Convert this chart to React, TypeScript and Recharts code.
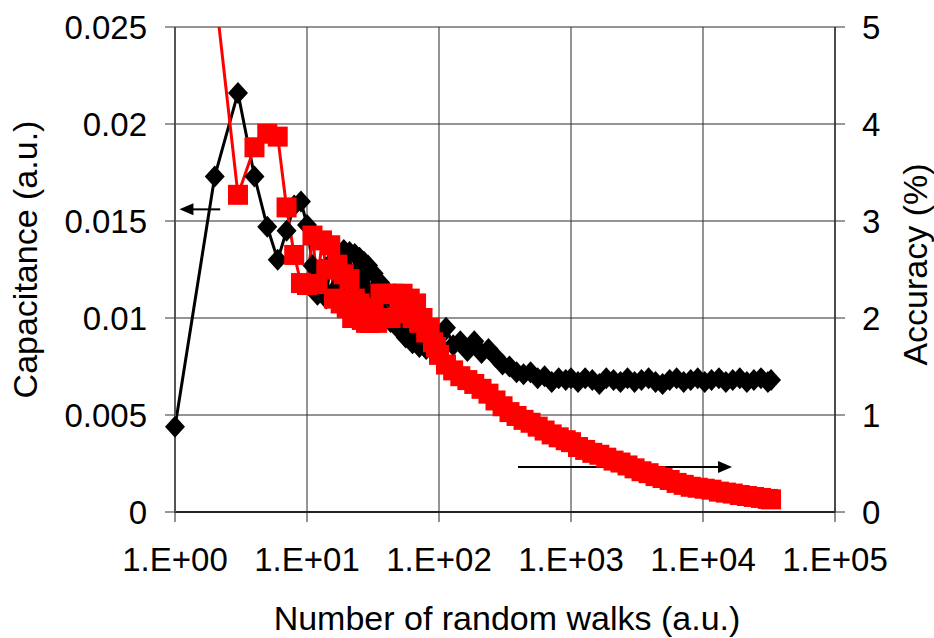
import React from "react";
import { ComposedChart, Line, XAxis, YAxis, CartesianGrid, ReferenceLine } from "recharts";

// number of random walks (x, log scale)
const walks = [
  1, 2, 3, 4, 5, 6, 7, 8, 9, 10,
  11, 12, 13, 14, 15, 16, 17, 18, 19, 20,
  21, 22, 23, 24, 25, 26, 27, 28, 29, 30,
  32, 34, 36, 38, 40, 43, 46, 50, 53, 56,
  60, 63, 67, 71, 75, 80, 85, 90, 95,
  100, 113, 128, 145, 164, 185, 210, 237, 268, 303,
  342, 387, 437, 494, 559, 631, 714, 807, 912,
  1000, 1130, 1280, 1450, 1640, 1850, 2100, 2370, 2680, 3030,
  3420, 3870, 4370, 4940, 5590, 6310, 7140, 8070, 9120, 10300,
  11600, 13200, 14900, 16800, 19000, 21500, 24300, 27500, 31000, 32768,
];

// capacitance (a.u.), left axis
const capacitance = [
  0.0044, 0.0173, 0.0216, 0.0173, 0.0147, 0.013, 0.0145, 0.0158, 0.016, 0.0148,
  0.0127, 0.0112, 0.0125, 0.011, 0.0128, 0.0114, 0.0133, 0.0118, 0.0135, 0.012,
  0.0134, 0.0118, 0.0133, 0.0116, 0.0131, 0.0114, 0.0129, 0.0112, 0.0127, 0.011,
  0.0123, 0.0106, 0.0118, 0.0102, 0.0113, 0.0098, 0.0108, 0.0094, 0.0104, 0.009,
  0.01, 0.0087, 0.0096, 0.0085, 0.0093, 0.0084, 0.009, 0.0085, 0.0088,
  0.009, 0.0095, 0.0086, 0.0088, 0.0083, 0.0088, 0.0082, 0.0084, 0.008, 0.0076,
  0.0075, 0.0072, 0.0071, 0.0072, 0.0069, 0.007, 0.0067, 0.0069, 0.0068,
  0.0069, 0.0067, 0.0069, 0.0068, 0.0066, 0.0069, 0.0068, 0.0067, 0.0069, 0.0067,
  0.0068, 0.0069, 0.0067, 0.0066, 0.0068, 0.0069, 0.0067, 0.0068, 0.0069, 0.0067,
  0.0068, 0.0069, 0.0067, 0.0068, 0.0069, 0.0067, 0.0068, 0.0069, 0.0067, 0.0068,
];

// accuracy (%), right axis
const accuracy = [
  null, 5.4, 3.27, 3.76, 3.9, 3.87, 3.14, 2.65, 2.36, 2.34,
  2.85, 2.35, 2.8, 2.5, 2.75, 2.2, 2.55, 2.15, 2.45, 2.1,
  2.4, 2.0, 2.2, 2.0, 2.15, 1.98, 2.1, 1.95, 2.05, 1.95,
  2.1, 1.95, 2.25, 2.0, 2.25, 2.0, 2.25, 2.1, 2.25, 2.05,
  2.2, 2.0, 2.15, 1.95, 2.0, 1.85, 1.9, 1.75, 1.7,
  1.62, 1.52, 1.46, 1.4, 1.36, 1.32, 1.27, 1.22, 1.15, 1.09,
  1.03, 0.99, 0.95, 0.92, 0.88, 0.84, 0.8, 0.77, 0.74,
  0.72, 0.67, 0.64, 0.61, 0.59, 0.56, 0.53, 0.51, 0.48, 0.45,
  0.42, 0.4, 0.37, 0.35, 0.33, 0.3, 0.28, 0.26, 0.25, 0.24,
  0.23, 0.21, 0.2, 0.19, 0.175, 0.165, 0.155, 0.145, 0.135, 0.13,
];

const xTicks = [1, 10, 100, 1000, 10000, 100000];
const capTicks = [0, 0.005, 0.01, 0.015, 0.02, 0.025];
const accTicks = [0, 1, 2, 3, 4, 5];

// arrows pointing at the axis each series belongs to
const capArrow = [{ x: 2.2, y: 0.0156 }, { x: 1.08, y: 0.0156 }];
const accArrow = [{ x: 397, y: 0.464 }, { x: 16600, y: 0.464 }];

const data = walks.map((w, i) => ({
  walks: w,
  capacitance: capacitance[i],
  accuracy: accuracy[i],
}));

const FONT = '"Liberation Sans", Arial, sans-serif';
const tickStyle = { fontSize: 33, fill: "#000", fontFamily: FONT };
const titleProps = { fontSize: 34, fill: "#000", fontFamily: FONT };

const fmtExp = (v: number) => {
  const e = Math.round(Math.log10(v));
  return `1.E+${String(e).padStart(2, "0")}`;
};

function Diamond(props: any) {
  const { cx, cy, index } = props;
  if (cx == null || cy == null) return <g key={`d${index}`} />;
  return (
    <polygon
      key={`d${index}`}
      points={`${cx},${cy - 11} ${cx + 10},${cy} ${cx},${cy + 11} ${cx - 10},${cy}`}
      fill="#000"
    />
  );
}

function Square(props: any) {
  const { cx, cy, index } = props;
  if (cx == null || cy == null) return <g key={`s${index}`} />;
  return <rect key={`s${index}`} x={cx - 10} y={cy - 10} width={20} height={20} fill="#ff0000" />;
}

function Arrow(props: any) {
  const { x1, y1, x2, y2 } = props;
  const dir = Math.sign(x2 - x1);
  return (
    <g>
      <line x1={x1} y1={y1} x2={x2 - dir * 10} y2={y2} stroke="#000" strokeWidth={2} />
      <polygon
        points={`${x2},${y2} ${x2 - dir * 14},${y2 - 6} ${x2 - dir * 14},${y2 + 6}`}
        fill="#000"
      />
    </g>
  );
}

export default function App() {
  return (
    <div style={{ position: "absolute", left: 0, top: 0, width: 934, height: 638, background: "#fff" }}>
      <ComposedChart width={934} height={638} data={data} margin={{ top: 27, right: 0, bottom: 0, left: 0 }}>
        <CartesianGrid yAxisId="left" stroke="#2a2a2a" strokeWidth={1} />
        <XAxis
          dataKey="walks"
          type="number"
          scale="log"
          domain={[1, 100000]}
          ticks={xTicks}
          interval={0}
          tickFormatter={fmtExp}
          height={126}
          tick={tickStyle}
          tickSize={10}
          tickMargin={26}
          axisLine={{ stroke: "#222", strokeWidth: 2 }}
          tickLine={{ stroke: "#222" }}
          label={{
            content: (p: any) => {
              const vb = p.viewBox || { x: 175, y: 512, width: 660, height: 126 };
              return (
                <text x={vb.x + vb.width / 2 + 2} y={vb.y + 118} textAnchor="middle" {...titleProps}>
                  Number of random walks (a.u.)
                </text>
              );
            },
          }}
        />
        <YAxis
          yAxisId="left"
          domain={[0, 0.025]}
          ticks={capTicks}
          interval={0}
          width={175}
          tick={tickStyle}
          tickSize={10}
          tickMargin={18}
          axisLine={{ stroke: "#555", strokeWidth: 2 }}
          tickLine={{ stroke: "#333" }}
          label={{
            content: (p: any) => {
              const vb = p.viewBox || { x: 0, y: 27, width: 175, height: 485 };
              const x = vb.x + 37;
              const y = vb.y + vb.height / 2 - 10;
              return (
                <text x={x} y={y} transform={`rotate(-90 ${x} ${y})`} textAnchor="middle" {...titleProps}>
                  Capacitance (a.u.)
                </text>
              );
            },
          }}
        />
        <YAxis
          yAxisId="right"
          orientation="right"
          domain={[0, 5]}
          ticks={accTicks}
          interval={0}
          allowDataOverflow
          width={99}
          tick={tickStyle}
          tickSize={10}
          tickMargin={17}
          axisLine={{ stroke: "#333", strokeWidth: 1.5 }}
          tickLine={{ stroke: "#333" }}
          label={{
            content: (p: any) => {
              const vb = p.viewBox || { x: 835, y: 27, width: 99, height: 485 };
              const x = vb.x + 92;
              const y = vb.y + vb.height / 2 - 5;
              return (
                <text x={x} y={y} transform={`rotate(-90 ${x} ${y})`} textAnchor="middle" {...titleProps}>
                  Accuracy (%)
                </text>
              );
            },
          }}
        />
        <Line
          yAxisId="left"
          dataKey="capacitance"
          stroke="#000"
          strokeWidth={3}
          dot={Diamond}
          activeDot={false}
          isAnimationActive={false}
        />
        <Line
          yAxisId="right"
          dataKey="accuracy"
          stroke="#ff0000"
          strokeWidth={3}
          dot={Square}
          activeDot={false}
          isAnimationActive={false}
        />
        <ReferenceLine yAxisId="left" segment={capArrow} shape={Arrow} />
        <ReferenceLine yAxisId="right" segment={accArrow} shape={Arrow} />
      </ComposedChart>
    </div>
  );
}
